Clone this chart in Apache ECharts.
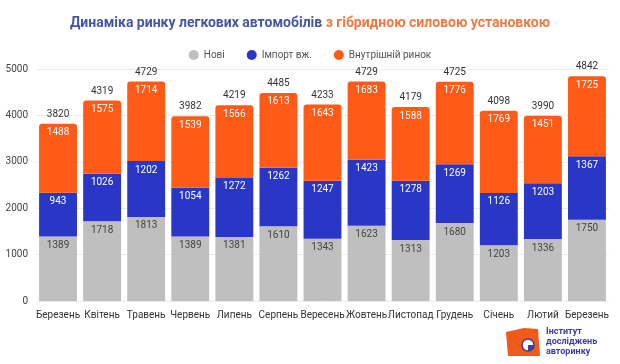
<!DOCTYPE html>
<html><head><meta charset="utf-8">
<script src="https://cdn.jsdelivr.net/npm/echarts@6/dist/echarts.min.js"></script>
<style>html,body{margin:0;padding:0;background:#fff}#c{width:620px;height:364px}</style>
</head><body><div id="c"></div>
<script>
const categories = ['Березень','Квітень','Травень','Червень','Липень','Серпень','Вересень','Жовтень','Листопад','Грудень','Січень','Лютий','Березень'];
const novi = [1389,1718,1813,1389,1381,1610,1343,1623,1313,1680,1203,1336,1750];
const import_ = [943,1026,1202,1054,1272,1262,1247,1423,1278,1269,1126,1203,1367];
const vnutr = [1488,1575,1714,1539,1566,1613,1643,1683,1588,1776,1769,1451,1725];
const totals = [3820,4319,4729,3982,4219,4485,4233,4729,4179,4725,4098,3990,4842];
const yTicks = [0,1000,2000,3000,4000,5000];

const chart = echarts.init(document.getElementById('c'));
const font = 'Roboto';
chart.setOption({
  animation:false,
  textStyle:{fontFamily:font},
  title:{
    text:'{a|Динаміка ринку легкових автомобілів }{b|з гібридною силовою установкою}',
    left:'center', top:11,
    textStyle:{rich:{
      a:{fontSize:14,fontWeight:'bold',color:'#4557a3',fontFamily:font},
      b:{fontSize:14,fontWeight:'bold',color:'#ee7a44',fontFamily:font}
    }}
  },
  legend:{
    top:45, left:'center', itemGap:22, itemWidth:10, itemHeight:10, icon:'circle',
    textStyle:{fontSize:10,color:'#555',fontFamily:font},
    data:['Нові','Імпорт вж.','Внутрішній ринок']
  },
  grid:{left:36,right:11,top:69,bottom:63},
  xAxis:{type:'category',data:categories,
    axisLine:{show:false},axisTick:{show:false},
    axisLabel:{fontSize:10,color:'#333',margin:9,interval:0}},
  yAxis:{type:'value',min:yTicks[0],max:yTicks[yTicks.length-1],interval:1000,
    axisLabel:{fontSize:10,color:'#444',margin:8,formatter:v=>String(v)},
    splitLine:{lineStyle:{color:'#ececec'}}},
  series:[
    {name:'Нові',type:'bar',stack:'s',data:novi,barWidth:'86%',
     itemStyle:{color:'#bfbfbf'},
     label:{show:true,position:'insideTop',color:'#444',fontSize:10,distance:4}},
    {name:'Імпорт вж.',type:'bar',stack:'s',data:import_,
     itemStyle:{color:'#2a37c6'},
     label:{show:true,position:'insideTop',color:'#fff',fontSize:10,distance:4}},
    {name:'Внутрішній ринок',type:'bar',stack:'s',data:vnutr,
     itemStyle:{color:'#ff5a17',borderRadius:[3,3,0,0]},
     label:{show:true,position:'insideTop',color:'#fff',fontSize:10,distance:4}},
    {name:'total',type:'line',data:totals,symbol:'circle',symbolSize:1,showSymbol:true,
     itemStyle:{opacity:0},lineStyle:{opacity:0},
     label:{show:true,position:'top',color:'#333',fontSize:10,distance:4,opacity:1},z:5}
  ],
  graphic:[
    {type:'group',left:506,top:327,children:[
      {type:'polygon',shape:{points:[[0,6],[18,2],[32,3],[34,30],[2,30]]},style:{fill:'#f05a1a'}},
      {type:'circle',shape:{cx:22,cy:19,r:6},style:{fill:'#fff',stroke:'#3a3f9e',lineWidth:1.5}},
      {type:'sector',shape:{cx:22,cy:19,r:6,startAngle:0,endAngle:Math.PI/2},style:{fill:'#3a3f9e'}},
      {type:'text',x:40,y:1,style:{text:'Інститут\nдосліджень\nавторинку',fill:'#3c3f9a',font:'bold 9px Roboto',lineHeight:10}}
    ]}
  ]
});
</script></body></html>
